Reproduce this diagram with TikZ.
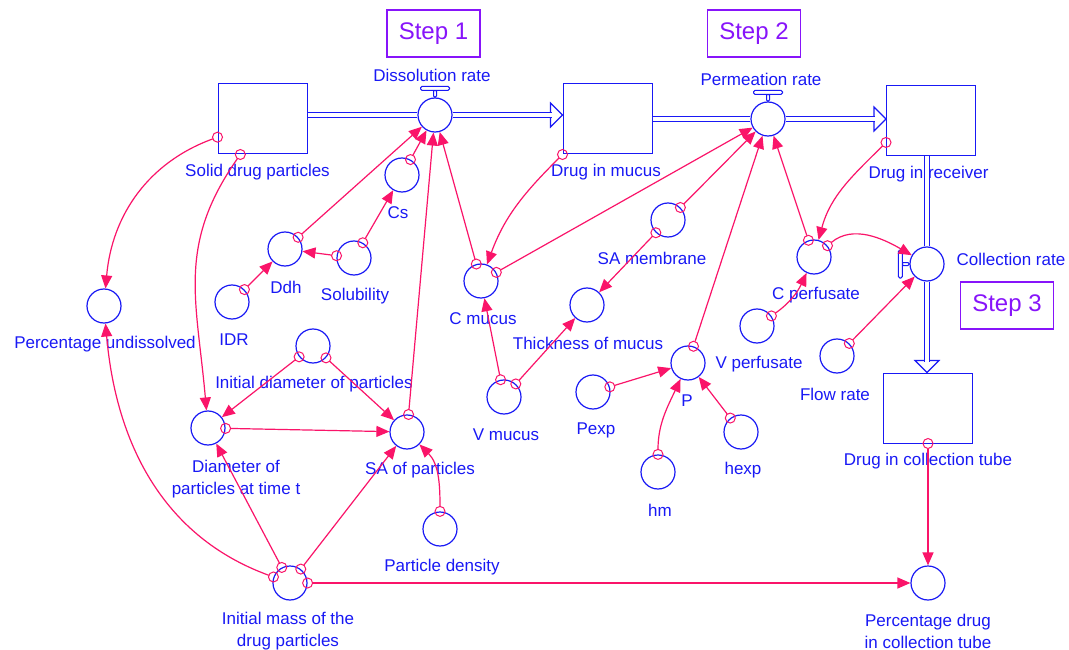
\documentclass[tikz,border=0pt]{standalone}
\usepackage{fontspec}
\setmainfont{Liberation Sans}
\usetikzlibrary{arrows.meta,calc}
\definecolor{vblue}{RGB}{25,25,245}
\definecolor{vlink}{RGB}{250,20,105}
\definecolor{vstep}{RGB}{135,20,250}
\begin{document}
\begin{tikzpicture}[line width=1.2pt, x=1pt, y=1pt,
  aux/.style={circle, draw=vblue, fill=white, minimum size=34pt, inner sep=0pt},
  valve/.style={circle, draw=vblue, fill=white, minimum size=34pt, inner sep=0pt},
  stock/.style={rectangle, draw=vblue, line width=1pt, minimum width=89pt, minimum height=70pt, inner sep=0pt},
  lbl/.style={text=vblue, font=\fontsize{17}{22}\selectfont, inner sep=0pt, align=center},
  steplbl/.style={draw=vstep, text=vstep, font=\fontsize{24}{28}\selectfont, minimum width=93pt, minimum height=47pt},
  link/.style={draw=vlink, shorten <=5pt, -{Triangle[length=13pt,width=11pt]}},
  ldot/.style={circle, draw=vlink, line width=1pt, minimum size=10pt, inner sep=0pt},
  pipe/.style={draw=vblue, double=white, double distance=3.8pt},
  handle/.style={draw=vblue, line width=1pt, fill=white, rounded corners=1.5pt}]
  \path[use as bounding box, fill=white] (0,0) rectangle (1069,-650);

  % stocks and flows
  \node[stock] (sdp) at (262.5,-119) {};
  \node[stock] (dim) at (607.5,-119) {};
  \node[stock] (dir) at (931,-120.5) {};
  \node[stock] (ct) at (928,-408) {};
  \node[valve] (dr) at (435,-115) {};
  \node[valve] (pr) at (768,-119) {};
  \node[valve] (cr) at (927,-264) {};
  \draw[handle] ($(dr.north)+(-1.5,0)$) rectangle ++(3,7.5);
  \draw[handle] ($(dr.north)+(-14.5,7)$) rectangle ++(29,4);
  \draw[handle] ($(pr.north)+(-1.5,0)$) rectangle ++(3,7.5);
  \draw[handle] ($(pr.north)+(-14.5,7)$) rectangle ++(29,4);
  \draw[handle] ($(cr.west)+(0,-1.5)$) rectangle ++(-7.5,3);
  \draw[handle] ($(cr.west)+(-7,-14)$) rectangle ++(-4,28);

  \draw[pipe] (sdp.east |- dr) -- (dr.west);
  \draw[vblue, fill=white] ($(dim.west |- dr)+(-12,12)$) -- (dim.west |- dr) -- ($(dim.west |- dr)+(-12,-12)$) -- cycle;
  \draw[pipe] (dr.east) -- ($(dim.west |- dr)+(-11,0)$);
  \draw[pipe] (dim.east |- pr) -- (pr.west);
  \draw[vblue, fill=white] ($(dir.west |- pr)+(-12,12)$) -- (dir.west |- pr) -- ($(dir.west |- pr)+(-12,-12)$) -- cycle;
  \draw[pipe] (pr.east) -- ($(dir.west |- pr)+(-11,0)$);
  \draw[pipe] (dir.south -| cr) -- (cr.north);
  \draw[vblue, fill=white] ($(ct.north -| cr)+(-12,12)$) -- (ct.north -| cr) -- ($(ct.north -| cr)+(12,12)$) -- cycle;
  \draw[pipe] (cr.south) -- ($(ct.north -| cr)+(0,11)$);

  \node[lbl] (sdp-t) at (257.5,-172) {Solid drug particles};
  \node[lbl] (dim-t) at (606,-172) {Drug in mucus};
  \node[lbl] (dir-t) at (928.5,-174) {Drug in receiver};
  \node[lbl] (ct-t) at (928,-461) {Drug in collection tube};
  \node[lbl] (dr-t) at (432,-75) {Dissolution rate};
  \node[lbl] (pr-t) at (761,-79) {Permeation rate};
  \node[lbl, anchor=west] (cr-t) at (956,-259) {Collection rate};

  \node[steplbl] (s1) at (433.5,-33.5) {Step 1};
  \node[steplbl] (s2) at (754,-33.5) {Step 2};
  \node[steplbl] (s3) at (1007,-305.5) {Step 3};

  % converters
  \foreach \nm/\xc/\yc/\lx/\txt in {cs/402/175/398/Cs, ddh/285/249/286/Ddh, sol/354/258/355/Solubility,
      idr/232/302/234/IDR, pu/104/306/105/Percentage undissolved, idp/313/346/314/Initial diameter of particles,
      sap/407/432/420/SA of particles, pd/440/529/442/Particle density, cm/481/281/483/C mucus,
      sam/668/220/652/SA membrane, tm/587/305/588/Thickness of mucus, vm/504/397/506/V mucus,
      pexp/593/392/596/Pexp, p/688/363/687/P, vp/757/326/759/V perfusate, cp/814/257/816/C perfusate,
      fr/837/356/835/Flow rate, hm/658/472/660/hm, hexp/741/432/743/hexp}{
    \node[aux] (\nm) at (\xc,-\yc) {};
    \node[lbl] (\nm-t) at (\lx,-\yc-38) {\txt};
  }
  \node[aux] (dpt) at (208,-428) {};
  \node[lbl] (dpt-t) at (236,-479) {Diameter of\\particles at time t};
  \node[aux] (im) at (290,-583) {};
  \node[lbl] (im-t) at (288,-631) {Initial mass of the\\drug particles};
  \node[aux] (pdc) at (928,-583) {};
  \node[lbl] (pdc-t) at (928,-631) {Percentage drug\\in collection tube};

  % links
  \foreach \a/\b in {ddh/dr, sol/ddh, sol/cs, cs/dr, idr/ddh, idp/dpt, idp/sap, dpt/sap, sap/dr, cm/dr,
      im/dpt, im/sap, im/pdc, ct/pdc, cm/pr, vm/cm, vm/tm, sam/tm, sam/pr, p/pr, pexp/p, hexp/p, cp/pr, fr/cr}{
    \draw[link] (\a) -- node[pos=0, ldot] {} (\b);
  }
  \draw[link] (sdp.202) to[out=200, in=85] node[pos=0, ldot] {} (pu);
  \draw[link] (sdp.238) to[out=235, in=95, looseness=1.1] node[pos=0, ldot] {} (dpt);
  \draw[link] (pd) to[out=90, in=-45] node[pos=0, ldot] {} (sap);
  \draw[link] (im) to[out=160, in=275] node[pos=0, ldot] {} (pu);
  \draw[link] (dim.south west) to[out=225, in=70] node[pos=0, ldot] {} (cm);
  \draw[link] (hm) to[out=90, in=245] node[pos=0, ldot] {} (p);
  \draw[link] (dir.206) to[out=225, in=75] node[pos=0, ldot] {} (cp);
  \draw[link] (cp) to[out=40, in=150] node[pos=0, ldot] {} (cr);
  \draw[link] (vp) to[out=35, in=245] node[pos=0, ldot] {} (cp);
\end{tikzpicture}
\end{document}
